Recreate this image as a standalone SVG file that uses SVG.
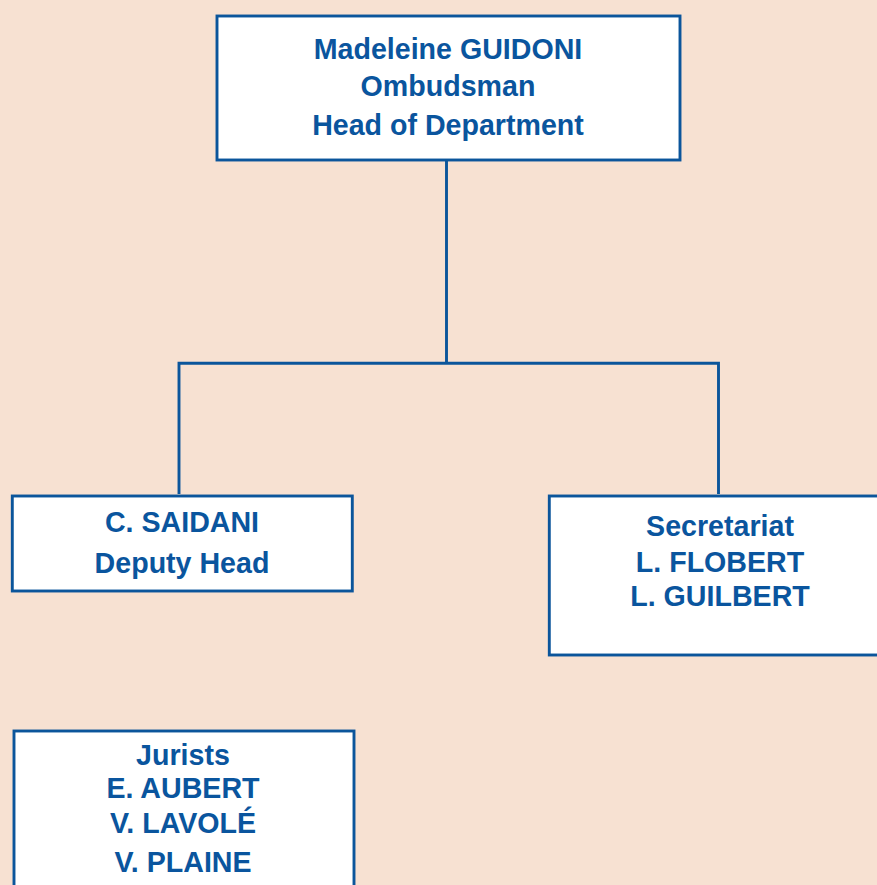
<svg xmlns="http://www.w3.org/2000/svg" width="877" height="885" viewBox="0 0 877 885">
<style>
.box{fill:#ffffff;stroke:#0b559b;stroke-width:2.9}
.conn{fill:none;stroke:#0b559b;stroke-width:2.9}
text{font-family:"Liberation Sans",Arial,sans-serif;font-weight:bold;font-size:28.6px;fill:#0a559e;text-anchor:middle}
</style>
<rect width="877" height="885" fill="#f7e1d2"/>
<g id="connectors">
<path class="conn" d="M446.5 160 V363.3 M179 494 V363.3 H718.5 V494"/>
</g>
<g id="head">
<rect class="box" x="217" y="16" width="463" height="144"/>
<text x="448" y="59">Madeleine GUIDONI</text>
<text x="448" y="96">Ombudsman</text>
<text x="448" y="135">Head of Department</text>
</g>
<g id="deputy">
<rect class="box" x="12.3" y="496" width="340" height="95"/>
<text x="182" y="532">C. SAIDANI</text>
<text x="182" y="573">Deputy Head</text>
</g>
<g id="secretariat">
<rect class="box" x="549.3" y="496" width="345" height="159"/>
<text x="720" y="536">Secretariat</text>
<text x="720" y="572">L. FLOBERT</text>
<text x="720" y="606">L. GUILBERT</text>
</g>
<g id="jurists">
<rect class="box" x="14" y="731" width="340" height="170"/>
<text x="183" y="765">Jurists</text>
<text x="183" y="798">E. AUBERT</text>
<text x="183" y="833">V. LAVOLÉ</text>
<text x="183" y="872">V. PLAINE</text>
</g>
</svg>
